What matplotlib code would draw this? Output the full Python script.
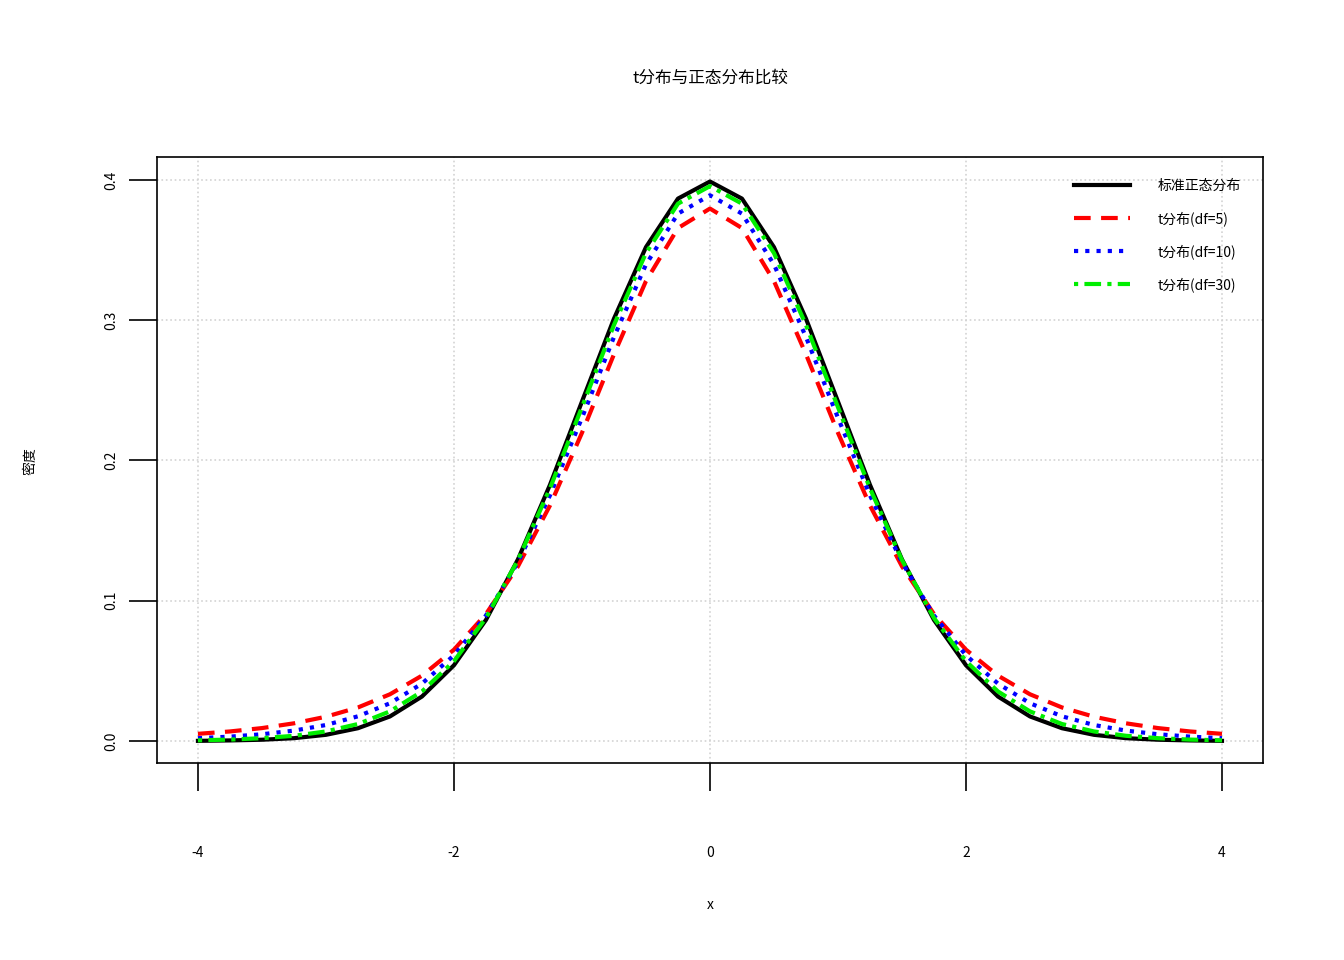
import matplotlib
matplotlib.use("Agg")
import matplotlib.pyplot as plt

plt.rcParams['font.family'] = ['Noto Sans CJK SC', 'DejaVu Sans']

# density values at x = -4 .. 4, step 0.25 (read/estimated from the chart)
x = [i * 0.25 - 4 for i in range(33)]
half_norm = [0.3989, 0.3867, 0.3521, 0.3011, 0.2420, 0.1826, 0.1295, 0.0863, 0.0540,
             0.0317, 0.0175, 0.0091, 0.0044, 0.0020, 0.0009, 0.0004, 0.0001]
half_t5 = [0.3796, 0.3657, 0.3279, 0.2757, 0.2197, 0.1679, 0.1245, 0.0905, 0.0651,
           0.0466, 0.0333, 0.0239, 0.0173, 0.0126, 0.0092, 0.0068, 0.0051]
half_t10 = [0.3891, 0.3760, 0.3397, 0.2880, 0.2304, 0.1751, 0.1274, 0.0895, 0.0611,
            0.0409, 0.0269, 0.0176, 0.0114, 0.0074, 0.0048, 0.0031, 0.0020]
half_t30 = [0.3956, 0.3831, 0.3479, 0.2966, 0.2380, 0.1801, 0.1290, 0.0877, 0.0569,
            0.0353, 0.0211, 0.0121, 0.0068, 0.0037, 0.0020, 0.0010, 0.0005]
y_norm = half_norm[:0:-1] + half_norm
y_t5 = half_t5[:0:-1] + half_t5
y_t10 = half_t10[:0:-1] + half_t10
y_t30 = half_t30[:0:-1] + half_t30

labels = ["标准正态分布", "t分布(df=5)", "t分布(df=10)", "t分布(df=30)"]
x_ticks = [-4, -2, 0, 2, 4]
y_ticks = [0.0, 0.1, 0.2, 0.3, 0.4]

fig = plt.figure(figsize=(13.44, 9.6), dpi=100)
ax = fig.add_axes([0.1168, 0.2052, 0.8229, 0.6313])

ax.grid(True, color="lightgray", linestyle=":", linewidth=1.2)
ax.set_axisbelow(True)

ax.plot(x, y_norm, color="black", lw=3, label=labels[0], solid_joinstyle="round")
ax.plot(x, y_t5, color="red", lw=3, dashes=(4, 2.5), label=labels[1])
ax.plot(x, y_t10, color="blue", lw=3, dashes=(1, 1.7), label=labels[2])
ax.plot(x, y_t30, color="#00ee00", lw=3, dashes=(1, 1.5, 4, 1.5), label=labels[3])

ax.set_xlim(-4.32, 4.32)
ax.set_ylim(-0.0157, 0.4164)
ax.set_xticks(x_ticks)
ax.set_xticklabels([str(t) for t in x_ticks])
ax.set_yticks(y_ticks)
ax.set_yticklabels([f"{t:.1f}" for t in y_ticks], rotation=90, va="center")
ax.tick_params(axis="x", length=20, width=1.2, pad=40, labelsize=10)
ax.tick_params(axis="y", length=20, width=1.2, pad=8, labelsize=10)
for s in ax.spines.values():
    s.set_linewidth(1.2)

fig.text(0.5283, 0.919, "t分布与正态分布比较", ha="center", va="center", fontsize=12)
fig.text(0.5283, 0.057, "x", ha="center", va="center", fontsize=10)
fig.text(0.0223, 0.52, "密度", ha="center", va="center", rotation=90, fontsize=10)

ax.legend(loc="upper right", frameon=False, fontsize=10, handlelength=4,
          handletextpad=2, labelspacing=1.3, borderaxespad=1.2)

fig.savefig("out.png", dpi=100)
